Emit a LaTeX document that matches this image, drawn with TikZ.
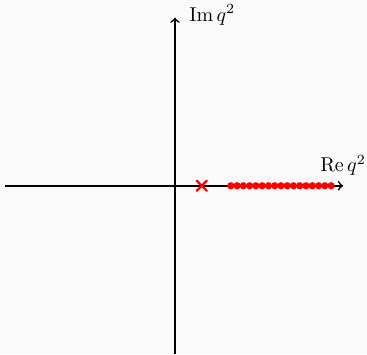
\documentclass[tikz,border=0pt]{standalone}
\usepackage{amsmath,amssymb}
\usetikzlibrary{positioning}
\definecolor{bgcol}{HTML}{FAFAFA}
\tikzset{
  axis/.style={
    thick,
    ->
  },
  cut/.style={
    inner sep = 0.045cm,
    shape = circle,
    fill = red
  },
  bound/.style={
    red,
    line width=1.1pt,
    line cap=round
  },
}

\begin{document}
\begin{tikzpicture}
\fill[bgcol] (-3.07,-2.96) rectangle (3.37,3.26);
\useasboundingbox (-3.07,-2.96) rectangle (3.37,3.26);
\coordinate (xl) at (-2.98,0);
\coordinate (xr) at (2.95,0);
\coordinate (yb) at (0,-2.95);
\coordinate (yt) at (0,2.95);
\draw[axis] (xl) -- (xr) node[above=0.05cm] {$\operatorname{Re} q^2$};
\draw[axis] (yb) -- (yt) node[right=0.12cm, yshift=0.05cm] {$\operatorname{Im} q^2$};
% pole
\coordinate (pole) at (0.47,0);
\draw[bound] ([shift={(-0.09,-0.09)}]pole) -- ([shift={(0.09,0.09)}]pole);
\draw[bound] ([shift={(-0.09,0.09)}]pole) -- ([shift={(0.09,-0.09)}]pole);
% cut
		  \foreach \i in {0,...,16}{
		    \node[cut] at (0.98+0.11*\i,0) {}; }
\end{tikzpicture}
\end{document}
